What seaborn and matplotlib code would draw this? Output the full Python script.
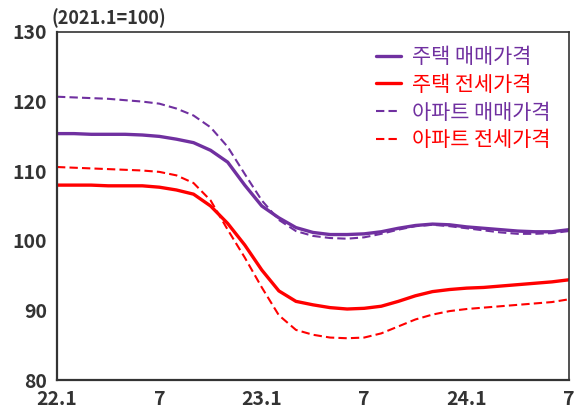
import numpy as np
import pandas as pd
import matplotlib
matplotlib.use('Agg')
import matplotlib.pyplot as plt
import seaborn as sns

# monthly index, 22.1 .. 24.7 (2021.1 = 100)
months = list(range(31))
house_sale = [115.4, 115.4, 115.3, 115.3, 115.3, 115.2, 115.0, 114.6, 114.1, 113.0,
              111.3, 108.0, 105.0, 103.3, 101.9, 101.2, 100.9, 100.9, 101.0, 101.3,
              101.8, 102.2, 102.4, 102.3, 102.0, 101.8, 101.6, 101.4, 101.3, 101.3, 101.6]
house_jeonse = [108.0, 108.0, 108.0, 107.9, 107.9, 107.9, 107.7, 107.3, 106.7, 105.0,
                102.5, 99.4, 95.8, 92.8, 91.3, 90.8, 90.4, 90.2, 90.3, 90.6,
                91.3, 92.1, 92.7, 93.0, 93.2, 93.3, 93.5, 93.7, 93.9, 94.1, 94.4]
apt_sale = [120.7, 120.6, 120.5, 120.4, 120.2, 120.0, 119.7, 119.0, 118.0, 116.3,
            113.5, 109.6, 105.8, 103.0, 101.4, 100.7, 100.4, 100.3, 100.5, 101.0,
            101.6, 102.1, 102.3, 102.1, 101.8, 101.5, 101.2, 101.0, 101.0, 101.1, 101.4]
apt_jeonse = [110.6, 110.5, 110.4, 110.3, 110.2, 110.1, 109.9, 109.4, 108.3, 105.8,
              101.6, 97.6, 93.3, 89.3, 87.2, 86.5, 86.1, 86.0, 86.1, 86.7,
              87.7, 88.7, 89.4, 89.9, 90.2, 90.4, 90.6, 90.8, 91.0, 91.2, 91.6]

labels = ['주택 매매가격', '주택 전세가격', '아파트 매매가격', '아파트 전세가격']
tick_pos = [0, 6, 12, 18, 24, 30]
tick_labels = ['22.1', '7', '23.1', '7', '24.1', '7']

purple = '#7030A0'
red = '#FF0000'

sns.set_style('white')
plt.rcParams['font.family'] = ['Noto Sans CJK KR', 'DejaVu Sans']

fig, ax = plt.subplots(figsize=(5.74, 4.08), dpi=100)
fig.subplots_adjust(left=0.0993, right=0.9913, bottom=0.0686, top=0.9216)

series = [house_sale, house_jeonse, apt_sale, apt_jeonse]
colors = [purple, red, purple, red]
widths = [2.4, 2.4, 1.5, 1.5]
for vals, lab, col, lw in zip(series, labels, colors, widths):
    df = pd.DataFrame({'m': months, 'v': vals})
    sns.lineplot(data=df, x='m', y='v', color=col, linewidth=lw, ax=ax, label=lab)

for line in ax.get_lines()[2:4]:
    line.set_dashes([4, 2])

ax.set_xlim(0, 30)
ax.set_ylim(80, 130)
ax.set_xticks(tick_pos)
ax.set_xticklabels(tick_labels)
ax.set_yticks([80, 90, 100, 110, 120, 130])
ax.set_xlabel('')
ax.set_ylabel('')

for s in ax.spines.values():
    s.set_color('#333333')
    s.set_linewidth(1.2)
ax.spines['left'].set_linewidth(1.6)
ax.spines['bottom'].set_linewidth(1.6)

ax.tick_params(axis='both', direction='in', colors='#333333', labelsize=14,
               width=1.2)
ax.tick_params(axis='x', length=6, pad=7)
ax.tick_params(axis='y', length=5, pad=7)
for t in ax.get_xticklabels() + ax.get_yticklabels():
    t.set_fontweight('bold')
    t.set_color('#333333')

ax.text(-0.01, 1.01, '(2021.1=100)', transform=ax.transAxes, fontsize=13,
        fontweight='bold', color='#333333', ha='left', va='bottom')

leg = ax.legend(loc='upper right', bbox_to_anchor=(1.0, 1.014), frameon=False,
                fontsize=15, handlelength=1.2, handletextpad=0.5,
                labelspacing=0.28, labelcolor=colors)

fig.savefig('out.png', dpi=100)
